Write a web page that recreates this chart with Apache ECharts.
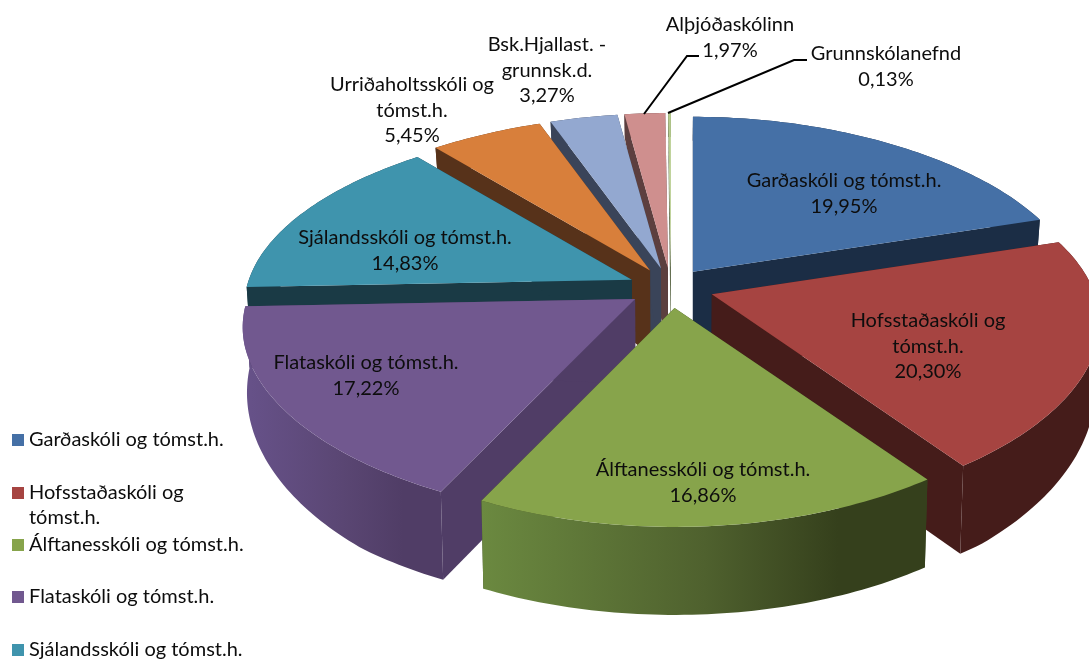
<!DOCTYPE html>
<html>
<head>
<meta charset="utf-8">
<style>html,body{margin:0;padding:0;background:#fff}#dom{width:1089px;height:659px}</style>
<script src="https://cdn.jsdelivr.net/npm/echarts@6/dist/echarts.min.js"></script>
</head>
<body>
<div id="dom"></div>
<script>
// data
var names = ['Garðaskóli og tómst.h.', 'Hofsstaðaskóli og tómst.h.', 'Álftanesskóli og tómst.h.', 'Flataskóli og tómst.h.',
    'Sjálandsskóli og tómst.h.', 'Urriðaholtsskóli og tómst.h.', 'Bsk.Hjallast. - grunnsk.d.', 'Alþjóðaskólinn', 'Grunnskólanefnd'];
var values = [19.95, 20.30, 16.86, 17.22, 14.83, 5.45, 3.27, 1.97, 0.13];
var valueLabels = ['19,95%', '20,30%', '16,86%', '17,22%', '14,83%', '5,45%', '3,27%', '1,97%', '0,13%'];

// colours: top face, radial wall, outer wall gradient
var topColors = ['#4570a6', '#a64441', '#87a44b', '#71588f', '#3f94ad', '#d87f3b', '#93a8d0', '#cf8f8e', '#b8cd8f'];
var sideColors = ['#1b2d45', '#451c1a', '#38441f', '#503d66', '#1a3a45', '#57321a', '#3a4459', '#5c3f3f', '#4f5c3a'];
var wallLeft = ['#1b2d45', '#451c1a', '#6b8940', '#67528a', '#1a3a45', '#57321a', '#3a4459', '#5c3f3f', '#4f5c3a'];
var wallMid = ['#1b2d45', '#451c1a', '#4f612e', '#5a4673', '#1a3a45', '#57321a', '#3a4459', '#5c3f3f', '#4f5c3a'];
var wallRight = ['#1b2d45', '#451c1a', '#35401c', '#503d66', '#1a3a45', '#57321a', '#3a4459', '#5c3f3f', '#4f5c3a'];

// label layout: centre x and y of each text line
var labelLines = [
    ['Garðaskóli og tómst.h.'], ['Hofsstaðaskóli og', 'tómst.h.'], ['Álftanesskóli og tómst.h.'], ['Flataskóli og tómst.h.'],
    ['Sjálandsskóli og tómst.h.'], ['Urriðaholtsskóli og', 'tómst.h.'], ['Bsk.Hjallast. -', 'grunnsk.d.'], ['Alþjóðaskólinn'], ['Grunnskólanefnd']
];
var labelX = [844, 928, 703, 366, 405, 412, 547, 730, 886];
var labelY = [181, 321, 470, 363, 238, 85, 45, 25, 54];
var lineGap = 25.5;
var leaders = { 7: [[699, 56], [687, 56], [644, 114]], 8: [[807, 60], [794, 60], [668, 113]] };

// legend: only the first five fit in the picture
var legendLines = [['Garðaskóli og tómst.h.'], ['Hofsstaðaskóli og', 'tómst.h.'], ['Álftanesskóli og tómst.h.'], ['Flataskóli og tómst.h.'], ['Sjálandsskóli og tómst.h.']];
var legendY = [440, 493, 545, 597, 650];

var fontName = 'Lato';
var fontSize = 20;

// 3d projection of the exploded pie
var cx = 671, cy = 288, explodeX = 43, explodeY = 20;
var explodeScale = [0.87, 1, 1, 1, 1, 1, 1, 1, 0.7];
var radiusScale = [1, 1, 1.006, 1.012, 1, 1, 1, 1, 1];
function radX(v) { return 383 - 60 * v + 8 * v * v; }
function radY(v) { return 176 - 32 * v + 11 * v * v; }
function wallH(v) { return Math.min(88, 60 - 36 * v); }
var apexDrop = 85;

var total = values.reduce(function (a, b) { return a + b; }, 0);
var slices = [];
var acc = 0;
values.forEach(function (v, i) {
    var a1 = acc / total * Math.PI * 2;
    acc += v;
    var a2 = acc / total * Math.PI * 2;
    slices.push({ a1: a1, a2: a2, mid: (a1 + a2) / 2, ex: explodeScale[i], rs: radiusScale[i] });
});

function apexOf(s) {
    return [cx + s.ex * explodeX * Math.sin(s.mid), cy - explodeY * Math.cos(s.mid)];
}
function rimPoint(s, a) {
    var ap = apexOf(s), v = Math.cos(a);
    return [ap[0] + Math.sin(a) * radX(v) * s.rs, ap[1] - v * radY(v)];
}
function drop(p, h) {
    return [p[0] + (cx - p[0]) * 0.01, p[1] + h];
}

function sliceGroup(i) {
    var s = slices[i], ap = apexOf(s), rim = [], wallBottom = [];
    var steps = Math.max(2, Math.ceil((s.a2 - s.a1) / (Math.PI / 180)));
    for (var k = 0; k <= steps; k++) {
        var a = s.a1 + (s.a2 - s.a1) * k / steps;
        var p = rimPoint(s, a);
        rim.push(p);
        wallBottom.push(drop(p, wallH(Math.cos(a))));
    }
    var apBottom = drop(ap, apexDrop);
    var first = rim[0], last = rim[rim.length - 1];
    var side = { fill: sideColors[i] };
    var wallFill = new echarts.graphic.LinearGradient(0, 0, 1, 0, [
        { offset: 0, color: wallLeft[i] }, { offset: 0.5, color: wallMid[i] },
        { offset: 0.8, color: wallRight[i] }, { offset: 1, color: wallRight[i] }
    ]);
    return {
        type: 'group',
        children: [
            { type: 'polygon', shape: { points: [ap, first, wallBottom[0], apBottom] }, style: side },
            { type: 'polygon', shape: { points: [ap, last, wallBottom[wallBottom.length - 1], apBottom] }, style: side },
            { type: 'polygon', shape: { points: rim.concat(wallBottom.slice().reverse()) }, style: { fill: wallFill } },
            { type: 'polygon', shape: { points: [ap].concat(rim) }, style: { fill: topColors[i] } }
        ]
    };
}

// paint from the back of the pie to the front
var order = names.map(function (n, i) { return i; }).sort(function (a, b) {
    return Math.cos(slices[b].mid) - Math.cos(slices[a].mid);
});

function textLine(str, x, y, align) {
    return { type: 'text', x: x, y: y, silent: true, z: 10,
        style: { text: str, fill: '#0d0d0d', font: fontSize + 'px ' + fontName, align: align, verticalAlign: 'middle' } };
}

var overlay = [];
names.forEach(function (n, i) {
    labelLines[i].concat(valueLabels[i]).forEach(function (str, k) {
        overlay.push(textLine(str, labelX[i], labelY[i] + k * lineGap, 'center'));
    });
    if (leaders[i]) {
        overlay.push({ type: 'polyline', z: 9, shape: { points: leaders[i] }, style: { stroke: '#000', lineWidth: 2, fill: null } });
    }
});
legendLines.forEach(function (lines, i) {
    overlay.push({ type: 'rect', z: 10, shape: { x: 12, y: legendY[i] - 6, width: 12, height: 12 }, style: { fill: topColors[i] } });
    lines.forEach(function (str, k) {
        overlay.push(textLine(str, 29, legendY[i] + k * 25, 'left'));
    });
});

var myChart = echarts.init(document.getElementById('dom'));
myChart.setOption({
    animation: false,
    backgroundColor: '#fff',
    graphic: { elements: overlay },
    series: [{
        type: 'custom',
        coordinateSystem: 'none',
        silent: true,
        data: order.map(function (i) { return { name: names[i], value: values[i] }; }),
        renderItem: function (params) {
            return sliceGroup(order[params.dataIndex]);
        }
    }]
});
</script>
</body>
</html>
